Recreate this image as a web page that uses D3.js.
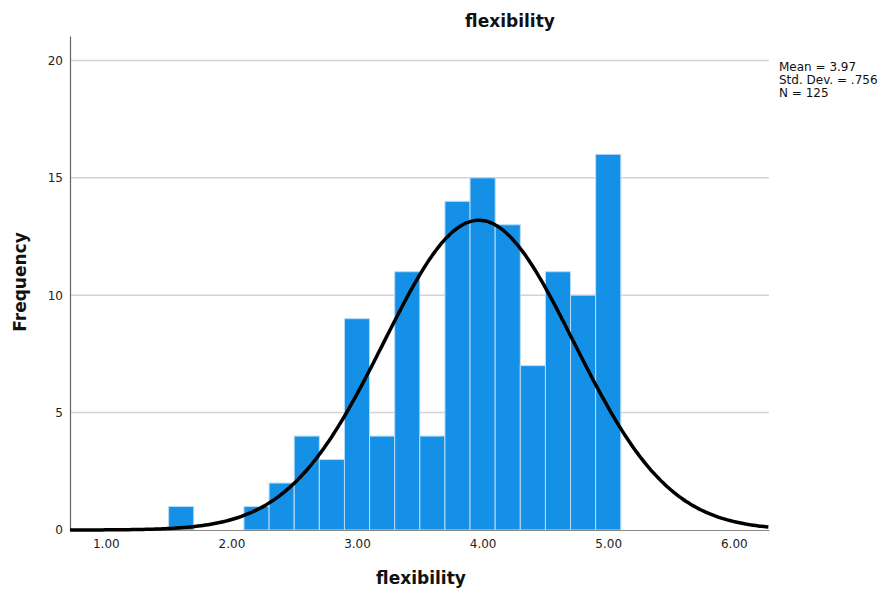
<!DOCTYPE html>
<html>
<head>
<meta charset="utf-8">
<script src="https://cdn.jsdelivr.net/npm/d3@7"></script>
<style>
  body { margin: 0; background: #fff; }
  text { font-family: "DejaVu Sans", sans-serif; }
</style>
</head>
<body>
<div id="container"></div>
<script>
// histogram of flexibility with normal curve

// bin lower edges and counts
var binStarts = [1.5, 2.1, 2.3, 2.5, 2.7, 2.9, 3.1, 3.3, 3.5, 3.7, 3.9, 4.1, 4.3, 4.5, 4.7, 4.9];
var counts    = [1,   1,   2,   4,   3,   9,   4,   11,  4,   14,  15,  13,  7,   11,  10,  16];
var binWidth = 0.2;

// summary stats shown in the legend
var mean = 3.97, sd = 0.756, n = 125;
var statLines = ["Mean = 3.97", "Std. Dev. = .756", "N = 125"];

var xTicks = [1, 2, 3, 4, 5, 6];
var yTicks = [0, 5, 10, 15, 20];

var W = 885, H = 595;
var margin = {top: 36, right: 116, bottom: 65, left: 70},
    width = W - margin.left - margin.right,
    height = H - margin.top - margin.bottom;

var svg = d3.select('#container').append('svg')
    .attr('width', W)
    .attr('height', H);

var g = svg.append('g')
    .attr('transform', 'translate(' + margin.left + ',' + margin.top + ')');

var x = d3.scaleLinear().domain([0.715, 6.28]).range([0, width]);
var y = d3.scaleLinear().domain([0, 21.04]).range([height, 0]);

// grid lines
g.append('g')
  .selectAll('line')
  .data(yTicks.filter(function(d) { return d > 0; }))
  .enter().append('line')
  .attr('x1', 0)
  .attr('x2', width)
  .attr('y1', function(d) { return y(d); })
  .attr('y2', function(d) { return y(d); })
  .attr('stroke', '#d4d4d4')
  .attr('stroke-width', 1.5);

// bars
var bins = binStarts.map(function(s, i) { return {x0: s, x1: s + binWidth, count: counts[i]}; });

g.selectAll('.bar')
  .data(bins)
  .enter().append('rect')
  .attr('class', 'bar')
  .attr('x', function(d) { return x(d.x0); })
  .attr('y', function(d) { return y(d.count); })
  .attr('width', function(d) { return x(d.x1) - x(d.x0); })
  .attr('height', function(d) { return y(0) - y(d.count); })
  .attr('fill', '#1490e6')
  .attr('stroke', '#b9dcf7')
  .attr('stroke-width', 1);

// axes
var yAxis = d3.axisLeft(y).tickValues(yTicks).tickSize(0).tickPadding(7);
var xAxis = d3.axisBottom(x).tickValues(xTicks).tickSize(0).tickPadding(9)
  .tickFormat(d3.format('.2f'));

var gy = g.append('g').call(yAxis);
gy.select('.domain').attr('stroke', '#666').attr('stroke-width', 1.2);
gy.selectAll('text').attr('font-size', 12).attr('fill', '#222')
  .attr('font-family', '"DejaVu Sans", sans-serif');

var gx = g.append('g')
  .attr('transform', 'translate(0,' + height + ')')
  .call(xAxis);
gx.select('.domain').attr('stroke', '#888').attr('stroke-width', 1.2);
gx.selectAll('text').attr('font-size', 12).attr('fill', '#222')
  .attr('font-family', '"DejaVu Sans", sans-serif');

// normal curve from the displayed mean / sd / N
var curvePts = d3.range(x.domain()[0], x.domain()[1] + 0.001, 0.02).map(function(v) {
  var z = (v - mean) / sd;
  return [v, n * binWidth * Math.exp(-0.5 * z * z) / (sd * Math.sqrt(2 * Math.PI))];
});

g.append('path')
  .datum(curvePts)
  .attr('fill', 'none')
  .attr('stroke', '#000')
  .attr('stroke-width', 3.5)
  .attr('d', d3.line()
    .x(function(d) { return x(d[0]); })
    .y(function(d) { return y(d[1]); })
    .curve(d3.curveBasis));

// titles
svg.append('text')
  .attr('x', 510).attr('y', 27)
  .attr('text-anchor', 'middle')
  .attr('font-size', 17).attr('font-weight', 'bold')
  .attr('fill', '#111')
  .text('flexibility');

svg.append('text')
  .attr('x', 421).attr('y', 584)
  .attr('text-anchor', 'middle')
  .attr('font-size', 17).attr('font-weight', 'bold')
  .attr('fill', '#111')
  .text('flexibility');

svg.append('text')
  .attr('transform', 'translate(26,282) rotate(-90)')
  .attr('text-anchor', 'middle')
  .attr('font-size', 17).attr('font-weight', 'bold')
  .attr('fill', '#111')
  .text('Frequency');

// stats box
svg.append('g')
  .selectAll('text')
  .data(statLines)
  .enter().append('text')
  .attr('x', 779)
  .attr('y', function(d, i) { return 71 + i * 13; })
  .attr('font-size', 12)
  .attr('fill', '#111')
  .text(function(d) { return d; });
</script>
</body>
</html>
